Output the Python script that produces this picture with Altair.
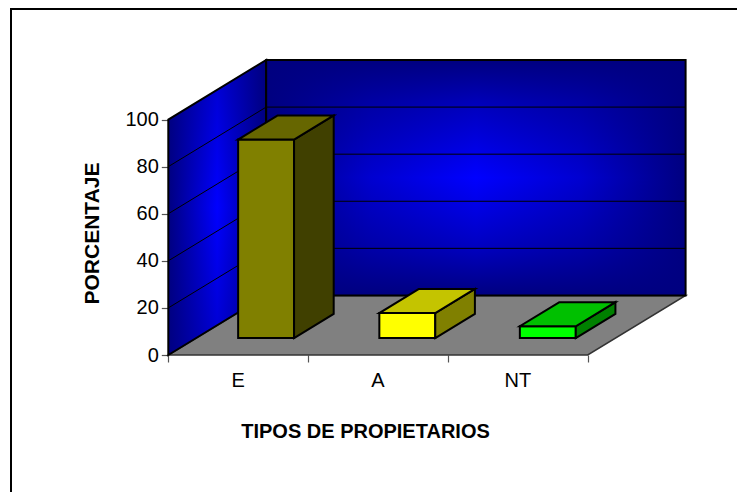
import altair as alt
import pandas as pd

# chart values
categories = ["E", "A", "NT"]
values = [84.3, 10.6, 5]
bar_centers = [0.5, 1.51, 2.515]
front_colors = ["#808000", "#ffff00", "#00ff00"]
top_colors = ["#666600", "#c4c400", "#00c000"]
side_colors = ["#404000", "#808000", "#008000"]
y_ticks = [0, 20, 40, 60, 80, 100]
x_ticks = [0, 1, 2, 3]
grid_values = [20, 40, 60, 80]

# oblique projection: full depth of the box in axis units
DEPTH_U = 0.70
DEPTH_V = 25.3
BAR_WIDTH = 0.40
Z0, Z1 = 0.285, 0.69


def px(pos, z):
    return pos + z * DEPTH_U


def py(val, z):
    return val + z * DEPTH_V


x_scale = alt.Scale(domain=[0, 3 + DEPTH_U], range=[160.3, 677.6], nice=False, zero=False)
y_scale = alt.Scale(domain=[0, 100 + DEPTH_V], range=[347, 52], nice=False, zero=False)

front, side, top = [], [], []
for i, (name, val) in enumerate(zip(categories, values)):
    x0 = bar_centers[i] - BAR_WIDTH / 2
    x1 = bar_centers[i] + BAR_WIDTH / 2
    for x in (x0, x1):
        front.append(dict(id=f"{name}f", x=px(x, Z0), lo=py(0, Z0), hi=py(val, Z0), fill=front_colors[i]))
    for z in (Z0, Z1):
        side.append(dict(id=f"{name}s", x=px(x1, z), lo=py(0, z), hi=py(val, z), fill=side_colors[i]))
        top.append(dict(id=f"{name}t", y=py(val, z), a=px(x0, z), b=px(x1, z), fill=top_colors[i]))

X = alt.X("x:Q", scale=x_scale, axis=None)
Y = alt.Y("lo:Q", scale=y_scale, axis=None)
Y2 = alt.Y2("hi:Q")


def grad(stops, vertical=False):
    return alt.LinearGradient(
        gradient="linear",
        x1=0, y1=0,
        x2=0 if vertical else 1,
        y2=1 if vertical else 0,
        stops=[alt.GradientStop(color=c, offset=o) for o, c in stops],
    )


horiz = grad([(0, "#000080"), (0.25, "#0000d0"), (0.5, "#0000ff"), (0.75, "#0000d0"), (1, "#000080")])
side_grad = grad([(0, "#000080"), (0.5, "#0000ff"), (1, "#000080")])
vert = grad([(0, "#000080"), (0.2, "rgba(0,0,128,0.5)"), (0.5, "rgba(0,0,128,0)"),
             (0.8, "rgba(0,0,128,0.5)"), (1, "#000080")], vertical=True)
side_vert = grad([(0, "rgba(0,0,128,0.4)"), (0.5, "rgba(0,0,128,0)"), (1, "rgba(0,0,128,0.4)")], vertical=True)

axis_base = alt.Chart(pd.DataFrame({"x": [0, 3], "y": [0, 100]})).mark_point(opacity=0).encode(
    x=alt.X("x:Q", scale=x_scale, axis=alt.Axis(
        values=x_ticks, labels=False, domain=False, grid=False, offset=-137,
        tickSize=7, tickColor="#555555", tickWidth=1.2,
        title="TIPOS DE PROPIETARIOS", titleFont="Liberation Sans", titleFontSize=20, titleFontWeight="bold",
        titleColor="#000000", titleX=357, titleY=76, titleBaseline="middle", titleAlign="center")),
    y=alt.Y("y:Q", scale=y_scale, axis=alt.Axis(
        values=y_ticks, domain=False, grid=False, offset=-160.3,
        tickSize=7, tickColor="#555555", tickWidth=1.2, labelPadding=3,
        labelFont="Liberation Sans", labelFontSize=20, labelColor="#000000",
        title="PORCENTAJE", titleFont="Liberation Sans", titleFontSize=21, titleFontWeight="bold",
        titleColor="#000000", titleX=-75.5, titleY=225, titleAngle=270, titleBaseline="middle", titleAlign="center")),
)

floor = alt.Chart(pd.DataFrame([
    dict(y=py(0, 0), a=px(0, 0), b=px(3, 0)),
    dict(y=py(0, 1), a=px(0, 1), b=px(3, 1)),
])).mark_area(orient="horizontal", color="#808080", stroke="#333333", strokeWidth=1.5).encode(
    y=alt.Y("y:Q", scale=y_scale, axis=None),
    x=alt.X("a:Q", scale=x_scale, axis=None),
    x2="b:Q",
)

left_df = pd.DataFrame([
    dict(x=px(0, 0), lo=py(0, 0), hi=py(100, 0)),
    dict(x=px(0, 1), lo=py(0, 1), hi=py(100, 1)),
])
left_wall = alt.Chart(left_df).mark_area(orient="vertical", color=side_grad).encode(x=X, y=Y, y2=Y2)
left_shade = alt.Chart(left_df).mark_area(orient="vertical", color=side_vert, stroke="#000000", strokeWidth=2).encode(x=X, y=Y, y2=Y2)

back_df = pd.DataFrame([
    dict(x=px(0, 1), lo=py(0, 1), hi=py(100, 1)),
    dict(x=px(3, 1), lo=py(0, 1), hi=py(100, 1)),
])
back_wall = alt.Chart(back_df).mark_area(orient="vertical", color=horiz).encode(x=X, y=Y, y2=Y2)
back_shade = alt.Chart(back_df).mark_area(orient="vertical", color=vert, stroke="#000000", strokeWidth=2).encode(x=X, y=Y, y2=Y2)

grid_rows = []
for v in grid_values:
    grid_rows += [
        dict(g=f"l{v}", x=px(0, 0), y=py(v, 0)),
        dict(g=f"l{v}", x=px(0, 1), y=py(v, 1)),
        dict(g=f"l{v}", x=px(3, 1), y=py(v, 1)),
    ]
grid = alt.Chart(pd.DataFrame(grid_rows)).mark_line(color="#000000", strokeWidth=1).encode(
    x=alt.X("x:Q", scale=x_scale, axis=None, sort=None),
    y=alt.Y("y:Q", scale=y_scale, axis=None),
    detail="g:N",
)

bar_faces = alt.Chart(pd.DataFrame(front + side)).mark_area(
    orient="vertical", stroke="#000000", strokeWidth=2, strokeJoin="miter"
).encode(x=X, y=Y, y2=Y2, color=alt.Color("fill:N", scale=None), detail="id:N")

bar_tops = alt.Chart(pd.DataFrame(top)).mark_area(
    orient="horizontal", stroke="#000000", strokeWidth=2, strokeJoin="miter"
).encode(
    y=alt.Y("y:Q", scale=y_scale, axis=None),
    x=alt.X("a:Q", scale=x_scale, axis=None),
    x2="b:Q",
    color=alt.Color("fill:N", scale=None),
    detail="id:N",
)

cat_labels = alt.Chart(pd.DataFrame({"name": categories, "x": [0.5, 1.5, 2.5]})).mark_text(
    font="Liberation Sans", fontSize=20, color="#000000", baseline="middle"
).encode(x=X, y=alt.value(373), text="name:N")

frame_left = alt.Chart(pd.DataFrame({"a": [0]})).mark_rule(color="#000000", strokeWidth=2).encode(
    x=alt.value(3), y=alt.value(0), y2=alt.value(484))
frame_top = alt.Chart(pd.DataFrame({"a": [0]})).mark_rule(color="#000000", strokeWidth=2).encode(
    x=alt.value(2), x2=alt.value(729), y=alt.value(1))

chart = alt.layer(
    frame_left, frame_top, floor, left_wall, left_shade, back_wall, back_shade, grid,
    bar_faces, bar_tops, cat_labels, axis_base,
).resolve_axis(x="independent", y="independent").resolve_scale(color="independent").properties(
    width=729, height=484, padding=0, autosize=alt.AutoSizeParams(type="none"),
).configure_view(stroke=None)

chart.save("out.html", embed_options={"renderer": "svg", "actions": False})
